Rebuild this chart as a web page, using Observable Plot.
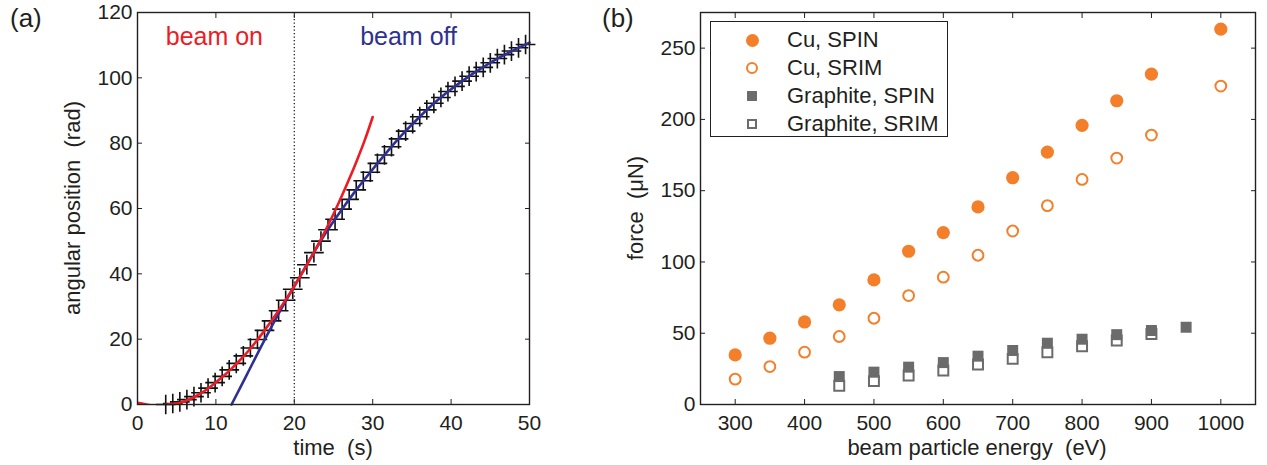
<!DOCTYPE html>
<html><head><meta charset="utf-8">
<script src="https://cdn.jsdelivr.net/npm/d3@7"></script>
<script src="https://cdn.jsdelivr.net/npm/@observablehq/plot@0.6"></script>
<style>
body{margin:0;background:#fff;font-family:"Liberation Sans",Arial,sans-serif;color:#231f20;}
#wrap{position:relative;width:1267px;height:465px;overflow:hidden;background:#fff;}
.panel{position:absolute;top:0;}
.t{position:absolute;white-space:pre;line-height:1;}
.plab{font-size:26px;}
.ttl{font-size:22px;}
.rot{transform:translate(-50%,-50%) rotate(-90deg);}
.hor{transform:translateX(-50%);}
#legend{position:absolute;left:710px;top:21px;width:236px;height:114px;border:1.5px solid #231f20;background:#fff;}
.row{position:absolute;left:0;height:28px;width:236px;}
.mk{position:absolute;box-sizing:border-box;}
.lt{position:absolute;left:76px;font-size:22px;line-height:1;white-space:pre;}
</style>
</head><body>
<div id="wrap">
  <div id="pa" class="panel" style="left:0"></div>
  <div id="pb" class="panel" style="left:600px"></div>
  <div class="t plab" style="left:10px;top:5px">(a)</div>
  <div class="t plab" style="left:602px;top:5px">(b)</div>
  <div class="t ttl rot" style="left:73px;top:208px">angular position  (rad)</div>
  <div class="t ttl hor" style="left:333px;top:437px">time  (s)</div>
  <div class="t ttl rot" style="left:636px;top:208px">force  (μN)</div>
  <div class="t ttl hor" style="left:977px;top:437px">beam particle energy  (eV)</div>
  <div id="legend"></div>
</div>
<script>
// ---------- panel (a) data ----------
const beamOnT = [0, 1, 2, 3, 3.8, 5, 6, 7, 8, 9, 10, 11, 12, 13, 14, 15, 16, 17, 18, 19, 20, 21, 22, 23, 24, 25, 26, 27, 28, 29, 30];
const beamOnY = [0.5, 0.05, -0.35, -0.3, 0, 0.3, 1.0, 2.0, 3.3, 4.9, 6.8, 8.8, 11.0, 13.4, 16.0, 18.9, 22.0, 25.3, 28.8, 32.4, 36.2, 40.2, 44.4, 48.8, 53.4, 58.3, 63.5, 69.0, 74.8, 81.0, 88.0];
const beamOffT = [12, 14, 16, 18, 20, 22, 24, 26, 28, 30, 32, 34, 36, 38, 40, 42, 44, 46, 48, 50];
const beamOffY = [0, 9.4, 18.8, 27.8, 36.2, 44.5, 52.5, 59.5, 66, 72, 77.8, 83.2, 88.1, 92.6, 96.5, 100, 103.1, 106, 108.5, 110.8];
const measT = [3.6, 4.5, 5.4, 6.3, 7.2, 8.1, 9.0, 9.9, 10.8, 11.7, 12.6, 13.5, 14.4, 15.3, 16.2, 17.1, 18.0, 18.9, 19.8, 20.7, 21.6, 22.5, 23.4, 24.3, 25.2, 26.1, 27.0, 27.9, 28.8, 29.7, 30.6, 31.5, 32.4, 33.3, 34.2, 35.1, 36.0, 36.9, 37.8, 38.7, 39.6, 40.5, 41.4, 42.3, 43.2, 44.1, 45.0, 45.9, 46.8, 47.7, 48.6, 49.5];
const measY = [0, 0.3, 0.8, 1.5, 2.4, 3.6, 5.0, 6.7, 8.6, 10.6, 12.6, 14.9, 17.3, 19.9, 22.7, 25.6, 28.7, 31.9, 35.3, 38.8, 42.8, 46.5, 50.0, 53.5, 56.7, 59.8, 62.8, 65.7, 68.5, 71.1, 73.8, 76.4, 78.9, 81.3, 83.7, 86.0, 88.1, 90.2, 92.2, 94.0, 95.8, 97.4, 99.0, 100.5, 101.9, 103.2, 104.6, 105.9, 107.1, 108.2, 109.2, 110.2];
const timeTicks = [0, 10, 20, 30, 40, 50];
const angleTicks = [0, 20, 40, 60, 80, 100, 120];
const beamSwitch = [20];
const notes = [
  {t: 3.6, y: 110.2, text: "beam on", color: "#ed1c24"},
  {t: 28.4, y: 110.2, text: "beam off", color: "#2e3192"}
];

// ---------- panel (b) data ----------
const cuEnergy = [300, 350, 400, 450, 500, 550, 600, 650, 700, 750, 800, 850, 900, 1000];
const cuSpin   = [34.8, 46.5, 57.9, 69.9, 87.4, 107.5, 120.6, 138.6, 159.1, 177.1, 195.8, 213.1, 231.8, 263.3];
const cuSrim   = [17.8, 26.6, 36.7, 47.7, 60.5, 76.4, 89.3, 104.7, 121.7, 139.5, 157.9, 172.9, 189.0, 223.4];
const grSpinEnergy = [450, 500, 550, 600, 650, 700, 750, 800, 850, 900, 950];
const grSpin       = [19.6, 22.7, 26.2, 29.4, 33.9, 37.9, 43.0, 45.8, 49.0, 51.9, 54.2];
const grSrimEnergy = [450, 500, 550, 600, 650, 700, 750, 800, 850, 900];
const grSrim       = [13.1, 16.4, 20.3, 23.8, 28.0, 32.0, 36.7, 40.9, 44.9, 49.5];
const energyTicks = [300, 400, 500, 600, 700, 800, 900, 1000];
const forceTicks = [0, 50, 100, 150, 200, 250];
const seriesNames = ["Cu, SPIN", "Cu, SRIM", "Graphite, SPIN", "Graphite, SRIM"];

const ORANGE = "#f47f2a", GRAY = "#6b6b6b", INK = "#231f20";

const zip = (xs, ys) => xs.map((x, i) => ({x, y: ys[i]}));
const plain = d => String(d);

function boxAxes(xt, yt) {
  return [
    Plot.frame({stroke: INK, strokeWidth: 1.4}),
    Plot.axisX(xt, {anchor: "bottom", tickSize: -5, tickPadding: 16, tickFormat: plain, label: null, stroke: INK, fill: INK}),
    Plot.axisX(xt, {anchor: "top", tickSize: -5, tickFormat: () => "", label: null, stroke: INK}),
    Plot.axisY(yt, {anchor: "left", tickSize: -5, tickPadding: 10, tickFormat: plain, label: null, stroke: INK, fill: INK}),
    Plot.axisY(yt, {anchor: "right", tickSize: -5, tickFormat: () => "", label: null, stroke: INK})
  ];
}

const style = {fontFamily: "Liberation Sans, Arial, sans-serif", fontSize: "21px", color: INK, background: "transparent", overflow: "visible"};

const plotA = Plot.plot({
  width: 600, height: 465,
  marginLeft: 137, marginRight: 71, marginTop: 12, marginBottom: 61,
  style,
  x: {domain: [0, 50]},
  y: {domain: [0, 120]},
  marks: [
    Plot.ruleX(beamSwitch, {stroke: INK, strokeWidth: 1.3, strokeDasharray: "1.3,2.2"}),
    Plot.dot(zip(measT, measY), {x: "x", y: "y", symbol: "plus", r: 6.4, stroke: "#111", strokeWidth: 1.6}),
    Plot.line(zip(beamOffT, beamOffY), {x: "x", y: "y", stroke: "#2e3192", strokeWidth: 2.6, curve: "catmull-rom"}),
    Plot.line(zip(beamOnT, beamOnY), {x: "x", y: "y", stroke: "#ed1c24", strokeWidth: 2.6, curve: "catmull-rom", clip: true}),
    Plot.text(notes, {x: "t", y: "y", text: "text", fill: "color", textAnchor: "start", lineAnchor: "bottom", fontSize: 25}),
    ...boxAxes(timeTicks, angleTicks)
  ]
});
document.getElementById("pa").appendChild(plotA);

const plotB = Plot.plot({
  width: 667, height: 465,
  marginLeft: 100, marginRight: 12, marginTop: 12, marginBottom: 61,
  style,
  x: {domain: [250, 1050]},
  y: {domain: [0, 275]},
  marks: [
    Plot.dot(zip(cuEnergy, cuSrim), {x: "x", y: "y", r: 5.4, stroke: ORANGE, strokeWidth: 2, fill: "none"}),
    Plot.dot(zip(cuEnergy, cuSpin), {x: "x", y: "y", r: 6.6, fill: ORANGE, stroke: "none"}),
    Plot.dot(zip(grSrimEnergy, grSrim), {x: "x", y: "y", symbol: "square", r: 5.6, stroke: GRAY, strokeWidth: 2, fill: "white"}),
    Plot.dot(zip(grSpinEnergy, grSpin), {x: "x", y: "y", symbol: "square", r: 6.2, fill: GRAY, stroke: "none"}),
    ...boxAxes(energyTicks, forceTicks)
  ]
});
document.getElementById("pb").appendChild(plotB);

// legend
const markStyles = [
  "width:13px;height:13px;border-radius:50%;background:" + ORANGE,
  "width:12px;height:12px;border-radius:50%;border:2px solid " + ORANGE,
  "width:10px;height:10px;background:" + GRAY,
  "width:10px;height:10px;border:2px solid " + GRAY
];
const lg = document.getElementById("legend");
seriesNames.forEach((name, i) => {
  const row = document.createElement("div");
  row.className = "row";
  row.style.top = (4 + i * 28) + "px";
  const m = document.createElement("div");
  m.className = "mk";
  m.setAttribute("style", markStyles[i]);
  const w = parseFloat(markStyles[i].match(/width:(\d+)/)[1]);
  m.style.left = (41 - w / 2) + "px";
  m.style.top = (14 - w / 2) + "px";
  const t = document.createElement("div");
  t.className = "lt";
  t.style.top = "3px";
  t.textContent = name;
  row.appendChild(m); row.appendChild(t);
  lg.appendChild(row);
});
</script>
</body></html>
